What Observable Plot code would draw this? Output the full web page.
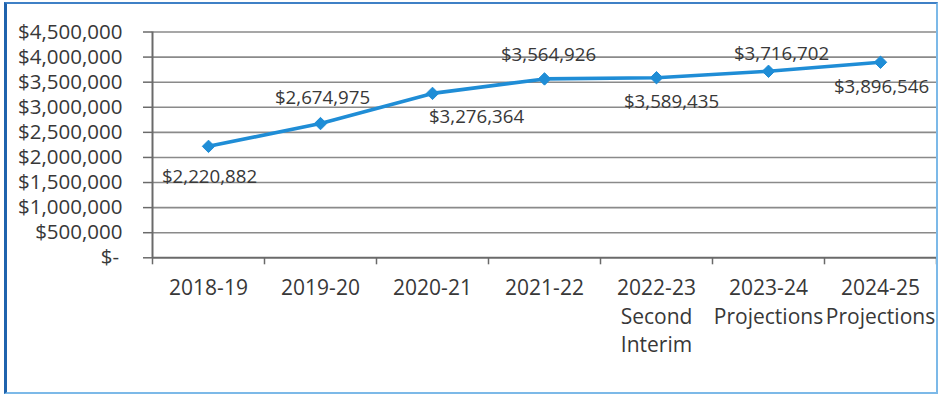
<!DOCTYPE html>
<html>
<head>
<meta charset="utf-8">
<script src="https://cdn.jsdelivr.net/npm/d3@7"></script>
<script src="https://cdn.jsdelivr.net/npm/@observablehq/plot@0.6"></script>
<style>
  html, body { margin: 0; padding: 0; background: #fff; }
  #wrap { position: relative; width: 939px; height: 395px; overflow: hidden; }
  #frame {
    position: absolute; left: 4px; top: 2px; width: 934px; height: 392px; box-sizing: border-box;
    border-left: 3px solid #1f63ad; border-top: 2px solid #3f80c6;
    border-right: 2px solid #7cb9e8; border-bottom: 2px solid #7cb9e8;
    pointer-events: none;
  }
</style>
</head>
<body>
<div id="wrap"><div id="frame"></div></div>
<script>
// ---- data ----
const categories = ["2018-19", "2019-20", "2020-21", "2021-22", "2022-23\nSecond\nInterim", "2023-24\nProjections", "2024-25\nProjections"];
const values = [2220882, 2674975, 3276364, 3564926, 3589435, 3716702, 3896546];
const yTicks = [0, 500000, 1000000, 1500000, 2000000, 2500000, 3000000, 3500000, 4000000, 4500000];
// label nudges (dx, dy) relative to each point
const labelOffsets = [[1, 31], [2, -26], [44, 24], [4, -24], [15, 24], [13, -17], [1, 25]];

const data = values.map((v, i) => ({i, v}));
const money = d3.format(",");
const yFmt = v => v === 0 ? "$-\u2009" : "$" + money(v);
const bounds = d3.range(-0.5, categories.length, 1);

const blue = "#1f8dd6";
const textColor = "#383838";

const chart = Plot.plot({
  width: 939,
  height: 395,
  marginLeft: 152,
  marginRight: 3,
  marginTop: 31.5,
  marginBottom: 137.7,
  style: {fontFamily: "'Open Sans', sans-serif", color: textColor, background: "transparent", overflow: "visible"},
  x: {type: "linear", domain: [-0.5, categories.length - 0.5], axis: null},
  y: {domain: [0, 4500000], axis: null},
  marks: [
    Plot.ruleY(yTicks.filter(d => d > 0), {stroke: "#8a8a8a", strokeWidth: 1.6}),
    Plot.ruleY([0], {stroke: "#6a6a6a", strokeWidth: 2}),
    Plot.ruleX([-0.5], {stroke: "#6a6a6a", strokeWidth: 2}),
    Plot.axisY({ticks: yTicks, tickSize: 9, tickPadding: 21, tickFormat: yFmt, fontSize: 20.5, stroke: "#6a6a6a", strokeWidth: 1.5, fill: textColor, label: null}),
    Plot.axisX({ticks: bounds, tickSize: 7, tickFormat: () => "", stroke: "#6a6a6a", strokeWidth: 1.5, label: null}),
    Plot.axisX({ticks: d3.range(categories.length), tickSize: 0, tickPadding: 17, tickFormat: i => categories[i], fontSize: 21, lineHeight: 1.36, fill: textColor, label: null}),
    Plot.line(data, {x: "i", y: "v", stroke: blue, strokeWidth: 3.6}),
    Plot.dot(data, {x: "i", y: "v", symbol: "diamond2", r: 5.6, fill: blue, stroke: blue, strokeWidth: 1}),
    ...labelOffsets.map(([dx, dy], k) =>
      Plot.text([data[k]], {x: "i", y: "v", text: d => "$" + money(d.v), dx, dy, fontSize: 18.7, fill: textColor})
    )
  ]
});
document.getElementById("wrap").prepend(chart);
</script>
</body>
</html>
